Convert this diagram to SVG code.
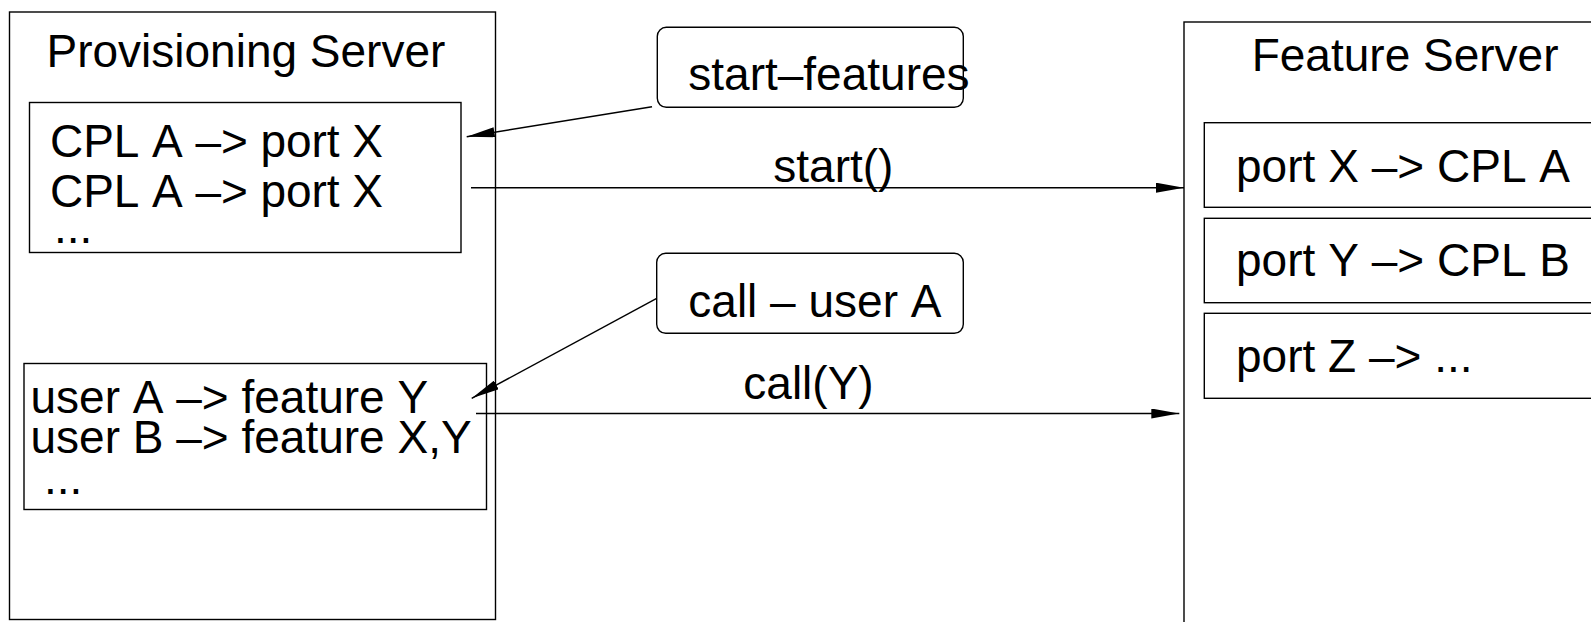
<svg xmlns="http://www.w3.org/2000/svg" width="1591" height="622" viewBox="0 0 1591 622">
<defs>
<style>
.box{fill:none;stroke:#000;stroke-width:1.4}
.t{font-family:"Liberation Sans",Arial,sans-serif;font-size:46px;fill:#000;font-kerning:none}
.c{fill:none;stroke:#000;stroke-width:1.4}
</style>
<marker id="ah" markerUnits="userSpaceOnUse" viewBox="0 0 28 10" refX="28" refY="5" markerWidth="28" markerHeight="10" orient="auto">
<path d="M0,0 L28,5 L0,10 z" fill="#000"/>
</marker>
</defs>
<rect width="1591" height="622" fill="#fff"/>
<g id="provisioning-server">
<rect class="box" x="9.5" y="12" width="486" height="607.5"/>
<text class="t" x="46.5" y="66.7">Provisioning Server</text>
</g>
<g id="cpl-table">
<rect class="box" x="29.5" y="102.5" width="431.5" height="150"/>
<text class="t" x="50" y="156.7" textLength="333">CPL A –&gt; port X</text>
<text class="t" x="50" y="206.7" textLength="333">CPL A –&gt; port X</text>
<text class="t" x="54" y="242.7">...</text>
</g>
<g id="user-table">
<rect class="box" x="24" y="363.5" width="462.5" height="146"/>
<text class="t" x="30.5" y="413.3">user A –&gt; feature Y</text>
<text class="t" x="30.5" y="453.3">user B –&gt; feature X,Y</text>
<text class="t" x="44" y="494">...</text>
</g>
<g id="start-features">
<rect class="box" x="657.3" y="27.3" width="306" height="80" rx="9"/>
<text class="t" x="688.3" y="90">start–features</text>
</g>
<g id="call-user-a">
<rect class="box" x="656.7" y="253.3" width="306.6" height="80" rx="9"/>
<text class="t" x="688.3" y="317.3">call – user A</text>
</g>
<g id="feature-server">
<rect class="box" x="1184" y="22" width="420" height="620"/>
<text class="t" x="1251.7" y="71">Feature Server</text>
</g>
<g id="port-x">
<rect class="box" x="1204.3" y="122.7" width="400" height="84.6"/>
<text class="t" x="1236" y="181.7" textLength="334">port X –&gt; CPL A</text>
</g>
<g id="port-y">
<rect class="box" x="1204.3" y="218.3" width="400" height="84.4"/>
<text class="t" x="1236" y="276" textLength="334">port Y –&gt; CPL B</text>
</g>
<g id="port-z">
<rect class="box" x="1204.3" y="313.3" width="400" height="85"/>
<text class="t" x="1236" y="371.7">port Z –&gt; ...</text>
</g>
<g id="connectors">
<line class="c" x1="652" y1="106.7" x2="466.7" y2="136.7" marker-end="url(#ah)"/>
<line class="c" x1="471" y1="187.7" x2="1184" y2="187.7" marker-end="url(#ah)"/>
<text class="t" x="773.3" y="181.7">start()</text>
<line class="c" x1="656.7" y1="298.3" x2="471.7" y2="398.3" marker-end="url(#ah)"/>
<line class="c" x1="476" y1="413.5" x2="1179.3" y2="413.5" marker-end="url(#ah)"/>
<text class="t" x="743.3" y="399">call(Y)</text>
</g>
</svg>
